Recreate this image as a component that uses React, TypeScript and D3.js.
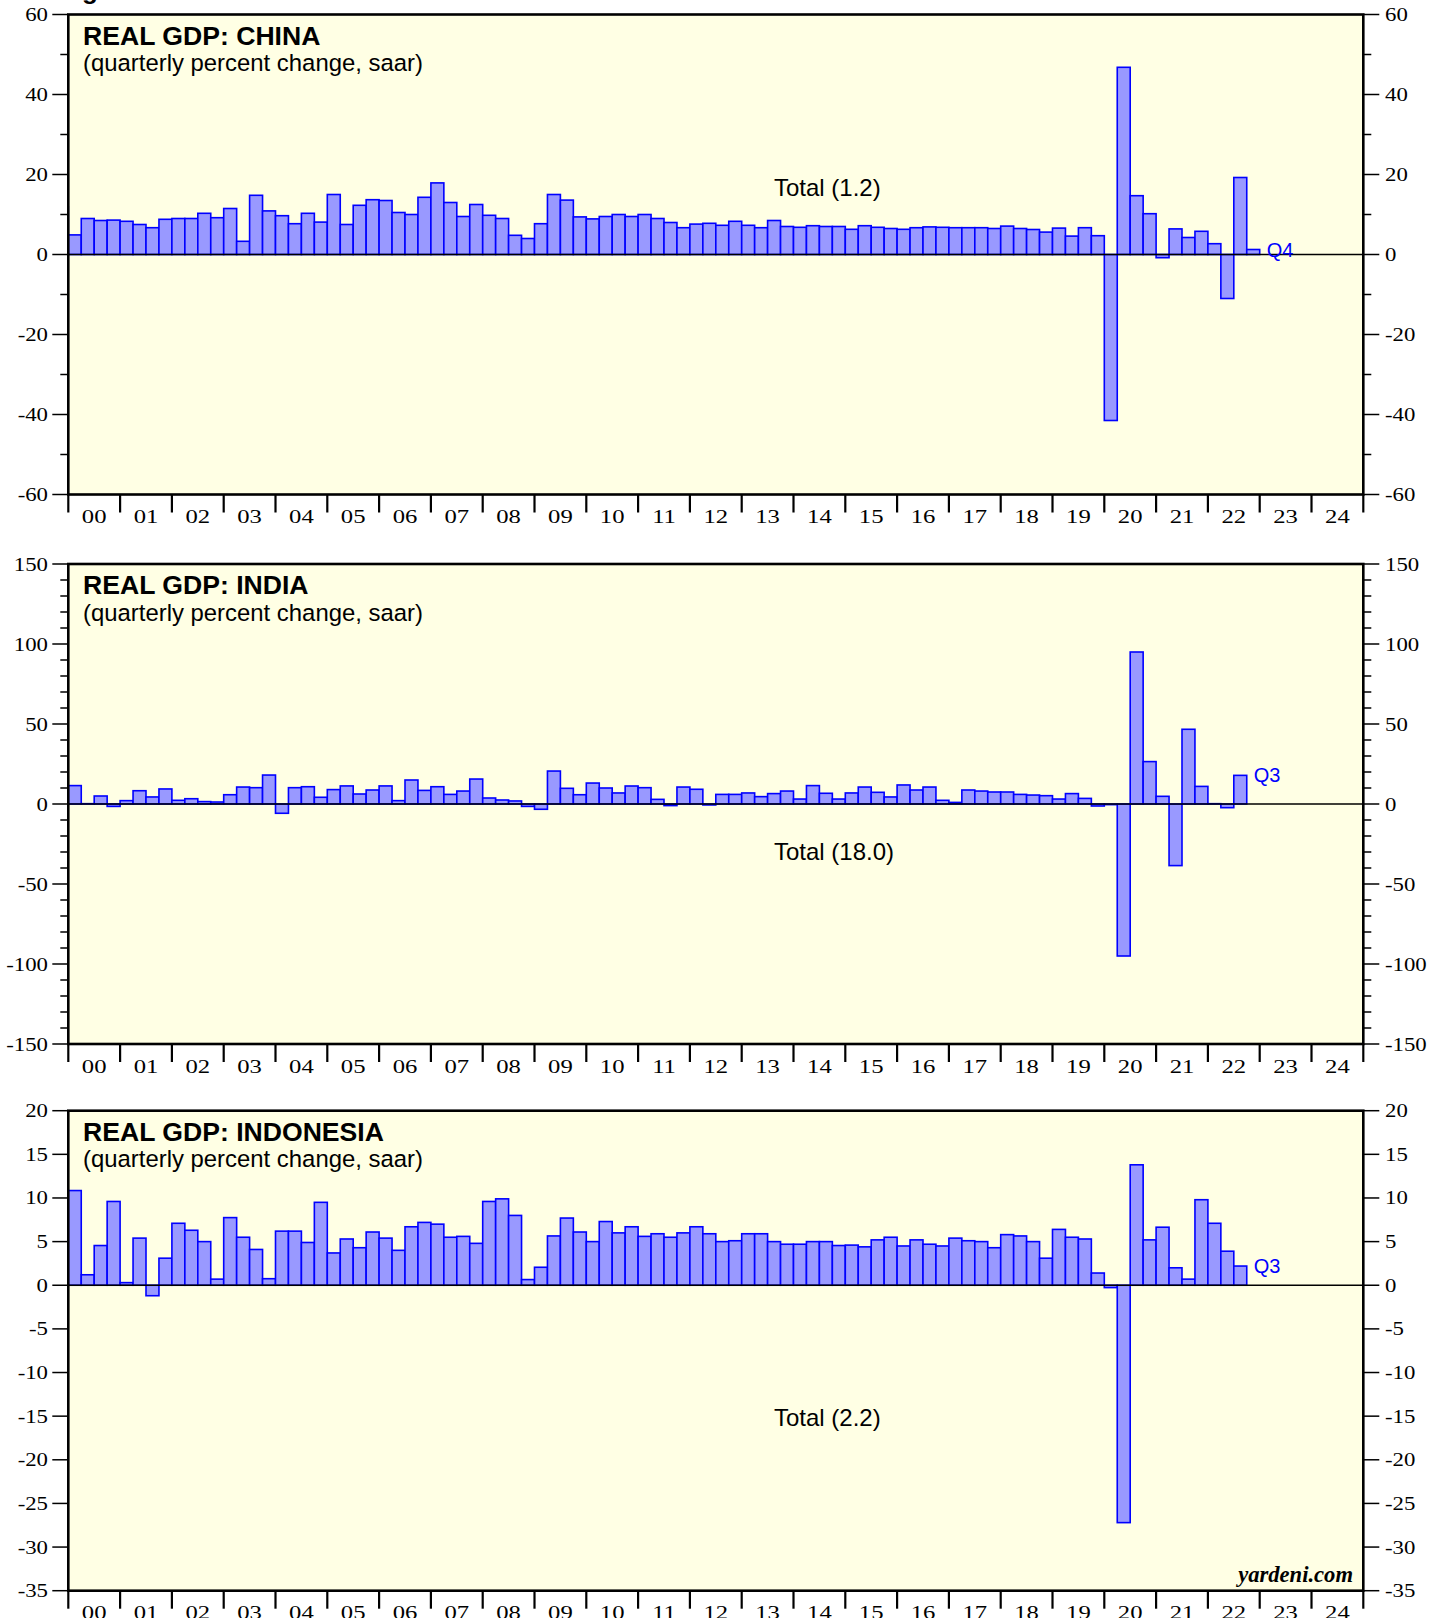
import React from "react";
import * as d3 from "d3";

// ---------- DATA (quarterly percent change, saar), first value = 2000 Q1 ----------
const chinaPrior = 11.9; // 1999 Q4 (clipped at left edge)
const chinaValues = [
  4.9, 9.0, 8.5, 8.6,
  8.3, 7.5, 6.7, 8.8,
  9.0, 9.0, 10.3, 9.2,
  11.5, 3.3, 14.8, 10.9,
  9.7, 7.7, 10.3, 8.1,
  15.0, 7.5, 12.3, 13.7,
  13.5, 10.5, 10.0, 14.3,
  17.9, 13.0, 9.5, 12.5,
  9.8, 9.0, 4.8, 4.0,
  7.7, 15.0, 13.6, 9.4,
  8.9, 9.5, 10.0, 9.5,
  10.0, 9.0, 8.0, 6.7,
  7.6, 7.8, 7.3, 8.3,
  7.3, 6.7, 8.5, 7.0,
  6.8, 7.2, 7.0, 7.0,
  6.3, 7.2, 6.8, 6.5,
  6.3, 6.7, 6.9, 6.8,
  6.7, 6.7, 6.7, 6.5,
  7.1, 6.5, 6.25, 5.6,
  6.6, 4.6, 6.7, 4.7,
  -41.5, 46.8, 14.7, 10.2,
  -0.8, 6.4, 4.25, 5.8,
  2.7, -11.0, 19.25, 1.25,
];
const indiaValues = [
  11.5, 0.2, 5.0, -1.5,
  2.1, 8.3, 4.4, 9.4,
  2.3, 3.3, 1.5, 1.25,
  5.8, 10.6, 10.2, 18.1,
  -5.8, 10.2, 10.8, 4.2,
  9.0, 11.3, 6.25, 8.75,
  11.3, 2.1, 15.0, 8.5,
  10.8, 6.0, 8.1, 15.6,
  3.75, 2.5, 1.9, -1.5,
  -3.3, 20.6, 9.8, 5.8,
  13.1, 10.0, 6.9, 11.25,
  10.2, 2.9, -1.0, 10.6,
  9.2, -0.6, 6.0, 6.0,
  6.9, 4.6, 6.5, 8.1,
  3.1, 11.5, 6.7, 3.1,
  6.9, 10.6, 7.3, 4.4,
  11.9, 8.75, 10.6, 2.3,
  1.0, 8.75, 8.1, 7.5,
  7.5, 6.0, 5.6, 5.2,
  3.1, 6.5, 3.5, -1.25,
  -0.4, -95.0, 95.0, 26.5,
  4.8, -38.5, 46.7, 11.0,
  0.2, -2.3, 17.9,
];
const indonesiaValues = [
  10.85, 1.2, 4.55, 9.6,
  0.3, 5.4, -1.2, 3.1,
  7.1, 6.3, 5.0, 0.7,
  7.75, 5.5, 4.1, 0.75,
  6.2, 6.2, 4.9, 9.5,
  3.7, 5.3, 4.3, 6.1,
  5.4, 4.0, 6.7, 7.2,
  7.0, 5.5, 5.6, 4.8,
  9.6, 9.9, 8.0, 0.65,
  2.06, 5.65, 7.7, 6.1,
  5.0, 7.3, 6.0, 6.7,
  5.6, 5.9, 5.5, 6.0,
  6.7, 5.9, 5.0, 5.1,
  5.9, 5.9, 5.0, 4.7,
  4.7, 5.0, 5.0, 4.55,
  4.6, 4.4, 5.2, 5.5,
  4.5, 5.2, 4.7, 4.5,
  5.4, 5.1, 5.0, 4.3,
  5.8, 5.65, 5.0, 3.1,
  6.4, 5.5, 5.3, 1.4,
  -0.27, -27.2, 13.8, 5.2,
  6.65, 2.0, 0.7, 9.8,
  7.1, 3.9, 2.2,
];

const yearTickLabels = ["00","01","02","03","04","05","06","07","08","09","10","11","12","13","14","15","16","17","18","19","20","21","22","23","24"];
const chinaTicks = [60, 40, 20, 0, -20, -40, -60];
const indiaTicks = [150, 100, 50, 0, -50, -100, -150];
const indonesiaTicks = [20, 15, 10, 5, 0, -5, -10, -15, -20, -25, -30, -35];

const titles = ["REAL GDP: CHINA", "REAL GDP: INDIA", "REAL GDP: INDONESIA"];
const subtitle = "(quarterly percent change, saar)";
const totals = ["Total (1.2)", "Total (18.0)", "Total (2.2)"];
const lastLabels = ["Q4", "Q3", "Q3"];

// ---------- LAYOUT ----------
const W = 1439;
const H = 1618;
const X0 = 68.3;
const X1 = 1363.3;
const START = 2000;
const END = 2025;

const BG = "#FFFFE4";
const BAR_FILL = "#9999FF";
const BAR_STROKE = "#0000FF";
const SANS = "'Liberation Sans', Arial, Helvetica, sans-serif";
const SERIF = "'Liberation Serif', 'Times New Roman', Times, serif";

const x = d3.scaleLinear().domain([START, END]).range([X0, X1]);

type PanelCfg = {
  top: number;
  bottom: number;
  domain: [number, number];
  ticks: number[];
  minorStep: number | null;
  values: number[];
  prior?: number;
  title: string;
  total: string;
  totalY: number;
  last: string;
  id: string;
};

const panels: PanelCfg[] = [
  { top: 14.5, bottom: 494.5, domain: [-60, 60], ticks: chinaTicks, minorStep: 10, values: chinaValues, prior: chinaPrior, title: titles[0], total: totals[0], totalY: 195.5, last: lastLabels[0], id: "cn" },
  { top: 564, bottom: 1044, domain: [-150, 150], ticks: indiaTicks, minorStep: 10, values: indiaValues, title: titles[1], total: totals[1], totalY: 860, last: lastLabels[1], id: "in" },
  { top: 1110.7, bottom: 1590.7, domain: [-35, 20], ticks: indonesiaTicks, minorStep: null, values: indonesiaValues, title: titles[2], total: totals[2], totalY: 1426, last: lastLabels[2], id: "id" },
];

const TICK_FS = 19;

function StretchText(props: { x: number; y: number; sx: number; anchor: "start" | "end" | "middle"; children: React.ReactNode }) {
  return (
    <text
      transform={`translate(${props.x},${props.y}) scale(${props.sx},1)`}
      textAnchor={props.anchor}
      fontFamily={SERIF}
      fontSize={TICK_FS}
      fill="#000"
    >
      {props.children}
    </text>
  );
}

function Panel({ cfg }: { cfg: PanelCfg }) {
  const y = d3.scaleLinear().domain(cfg.domain).range([cfg.bottom, cfg.top]);
  const y0 = y(0);
  const bars = cfg.values.map((v, i) => ({ t: START + i * 0.25, v }));
  if (cfg.prior !== undefined) bars.unshift({ t: START - 0.25, v: cfg.prior });
  const minor: number[] = [];
  if (cfg.minorStep) {
    for (let v = cfg.domain[0]; v <= cfg.domain[1] + 1e-9; v += cfg.minorStep) {
      if (!cfg.ticks.includes(v)) minor.push(v);
    }
  }
  const years = d3.range(START, END + 1);
  const lastIdx = cfg.values.length - 1;
  const lastX = x(START + (lastIdx + 1) * 0.25) + 7;
  const lastY = y(cfg.values[lastIdx]);

  return (
    <g>
      <defs>
        <clipPath id={`clip-${cfg.id}`}>
          <rect x={X0} y={cfg.top} width={X1 - X0} height={cfg.bottom - cfg.top} />
        </clipPath>
      </defs>
      <rect x={X0} y={cfg.top} width={X1 - X0} height={cfg.bottom - cfg.top} fill={BG} />
      <g clipPath={`url(#clip-${cfg.id})`}>
        {bars.map((b, i) => {
          const xa = x(b.t);
          const xb = x(b.t + 0.25);
          const yv = y(b.v);
          return (
            <rect
              key={i}
              x={xa}
              y={Math.min(yv, y0)}
              width={xb - xa}
              height={Math.abs(yv - y0)}
              fill={BAR_FILL}
              stroke={BAR_STROKE}
              strokeWidth={1.6}
            />
          );
        })}
      </g>
      <line x1={X0} x2={X1} y1={y0} y2={y0} stroke="#000" strokeWidth={1.4} />
      {/* titles */}
      <text x={83} y={cfg.top + 30} fontFamily={SANS} fontWeight="bold" fontSize={26.6} fill="#000">
        {cfg.title}
      </text>
      <text x={83} y={cfg.top + 56.5} fontFamily={SANS} fontSize={23.9} fill="#000">
        {subtitle}
      </text>
      <text x={774} y={cfg.totalY} fontFamily={SANS} fontSize={24} fill="#000">
        {cfg.total}
      </text>
      <text x={lastX} y={lastY} dy="0.35em" fontFamily={SANS} fontSize={20} fill={BAR_STROKE}>
        {cfg.last}
      </text>
      {/* y ticks */}
      {cfg.ticks.map((t) => (
        <g key={`t${t}`}>
          <line x1={X0 - 16} x2={X0} y1={y(t)} y2={y(t)} stroke="#000" strokeWidth={1.5} />
          <line x1={X1} x2={X1 + 16} y1={y(t)} y2={y(t)} stroke="#000" strokeWidth={1.5} />
          <StretchText x={48} y={y(t) + 6.5} sx={1.2} anchor="end">{String(t)}</StretchText>
          <StretchText x={1385} y={y(t) + 6.5} sx={1.2} anchor="start">{String(t)}</StretchText>
        </g>
      ))}
      {minor.map((t) => (
        <g key={`m${t}`}>
          <line x1={X0 - 8} x2={X0} y1={y(t)} y2={y(t)} stroke="#000" strokeWidth={1.5} />
          <line x1={X1} x2={X1 + 8} y1={y(t)} y2={y(t)} stroke="#000" strokeWidth={1.5} />
        </g>
      ))}
      {/* x ticks */}
      {years.map((yr) => (
        <line key={`x${yr}`} x1={x(yr)} x2={x(yr)} y1={cfg.bottom} y2={cfg.bottom + 18} stroke="#000" strokeWidth={2.2} />
      ))}
      {yearTickLabels.map((lab, i) => (
        <StretchText key={`xl${i}`} x={x(START + i + 0.5)} y={cfg.bottom + 28.5} sx={1.3} anchor="middle">
          {lab}
        </StretchText>
      ))}
      {/* frame */}
      <rect x={X0} y={cfg.top} width={X1 - X0} height={cfg.bottom - cfg.top} fill="none" stroke="#000" strokeWidth={2.6} />
    </g>
  );
}

export default function App() {
  return (
    <svg
      width={W}
      height={H}
      viewBox={`0 0 ${W} ${H}`}
      style={{ position: "absolute", left: 0, top: 0, background: "#fff" }}
    >
      <rect x={0} y={0} width={W} height={H} fill="#fff" />
      <text x={59} y={-1.5} fontFamily={SANS} fontWeight="bold" fontSize={26} fill="#000">Figure 1.</text>
      {panels.map((p) => (
        <Panel key={p.id} cfg={p} />
      ))}
      <text x={1353} y={1582} textAnchor="end" fontFamily={SERIF} fontWeight="bold" fontStyle="italic" fontSize={22.6} fill="#000">
        yardeni.com
      </text>
    </svg>
  );
}
